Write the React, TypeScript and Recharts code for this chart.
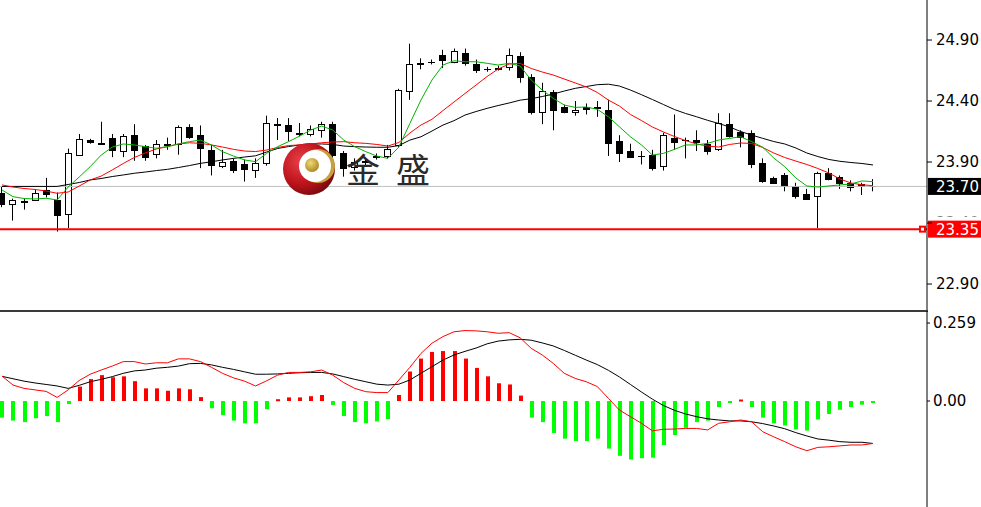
import React from 'react';
import { ComposedChart, Bar, Line, XAxis, YAxis, ReferenceLine } from 'recharts';

// candles (price units)
const opens = [
  23.65, 23.56, 23.57, 23.59, 23.67, 23.59, 23.47, 23.96, 24.08, 24.06,
  24.10, 23.99, 24.12, 24.03, 23.97, 24.04, 24.05, 24.19, 24.12, 24.00,
  23.87, 23.91, 23.88, 23.83, 23.89, 24.21, 24.20, 24.14, 24.13, 24.16,
  24.21, 23.97, 23.86, 23.90, 23.94, 23.95, 24.04, 24.48, 24.70, 24.72,
  24.78, 24.72, 24.79, 24.70, 24.66, 24.66, 24.68, 24.77, 24.60, 24.31,
  24.47, 24.35, 24.31, 24.35, 24.35, 24.33, 24.07, 23.99, 23.95, 23.96,
  23.87, 24.10, 24.08, 24.08, 24.05, 24.01, 24.21, 24.15, 24.14, 23.89,
  23.77, 23.79, 23.70, 23.64, 23.62, 23.81, 23.78, 23.73, 23.72, 23.70,
];
const highs = [
  23.70, 23.60, 23.60, 23.67, 23.77, 23.65, 24.01, 24.13, 24.09, 24.23,
  24.13, 24.13, 24.21, 24.04, 24.08, 24.10, 24.20, 24.21, 24.20, 24.04,
  24.00, 23.93, 23.92, 23.93, 24.28, 24.26, 24.26, 24.22, 24.20, 24.23,
  24.23, 23.99, 23.93, 23.93, 23.97, 24.04, 24.50, 24.87, 24.75, 24.74,
  24.82, 24.83, 24.83, 24.74, 24.68, 24.69, 24.83, 24.80, 24.62, 24.55,
  24.49, 24.37, 24.40, 24.38, 24.40, 24.41, 24.12, 24.05, 23.99, 24.00,
  24.14, 24.29, 24.10, 24.16, 24.08, 24.30, 24.30, 24.16, 24.16, 23.93,
  23.78, 23.81, 23.73, 23.68, 23.82, 23.85, 23.79, 23.75, 23.73, 23.76,
];
const lows = [
  23.53, 23.42, 23.51, 23.58, 23.61, 23.33, 23.36, 23.95, 24.05, 24.04,
  23.94, 23.94, 23.91, 23.91, 23.93, 24.00, 23.96, 24.09, 23.85, 23.79,
  23.85, 23.81, 23.74, 23.77, 23.87, 24.08, 24.07, 24.11, 24.11, 24.10,
  23.93, 23.78, 23.83, 23.87, 23.92, 23.93, 24.02, 24.41, 24.66, 24.70,
  24.67, 24.71, 24.69, 24.63, 24.64, 24.65, 24.65, 24.55, 24.29, 24.21,
  24.16, 24.30, 24.28, 24.29, 24.27, 23.95, 23.90, 23.94, 23.88, 23.83,
  23.83, 24.00, 23.93, 23.99, 23.96, 23.99, 24.10, 24.02, 23.85, 23.73,
  23.72, 23.66, 23.60, 23.59, 23.36, 23.75, 23.68, 23.66, 23.63, 23.66,
];
const closes = [
  23.56, 23.59, 23.58, 23.65, 23.64, 23.47, 23.97, 24.09, 24.06, 24.05,
  24.00, 24.11, 24.00, 23.94, 24.05, 24.05, 24.19, 24.11, 24.01, 23.88,
  23.90, 23.84, 23.84, 23.89, 24.22, 24.20, 24.15, 24.13, 24.17, 24.21,
  23.96, 23.85, 23.90, 23.91, 23.95, 24.01, 24.49, 24.70, 24.71, 24.72,
  24.74, 24.81, 24.71, 24.65, 24.66, 24.67, 24.78, 24.60, 24.31, 24.48,
  24.32, 24.31, 24.33, 24.33, 24.34, 24.06, 23.97, 23.94, 23.95, 23.85,
  24.12, 24.07, 24.08, 24.06, 23.99, 24.22, 24.11, 24.11, 23.89, 23.74,
  23.73, 23.70, 23.62, 23.60, 23.81, 23.76, 23.73, 23.70, 23.70, 23.70,
];

// moving averages (green fast, red middle, black slow)
const maFast = [
  23.671, 23.616, 23.601, 23.597, 23.603, 23.589, 23.695, 23.777, 23.862, 23.957,
  24.023, 24.048, 24.040, 24.026, 24.013, 24.026, 24.048, 24.067, 24.080, 24.040,
  23.985, 23.949, 23.917, 23.903, 23.971, 24.026, 24.067, 24.113, 24.162, 24.195,
  24.162, 24.080, 24.026, 23.985, 23.949, 23.930, 24.023, 24.217, 24.408, 24.572,
  24.695, 24.730, 24.722, 24.722, 24.709, 24.695, 24.709, 24.687, 24.572, 24.490,
  24.422, 24.367, 24.348, 24.351, 24.332, 24.271, 24.189, 24.107, 24.040, 23.957,
  23.971, 24.004, 24.040, 24.040, 24.053, 24.080, 24.094, 24.107, 24.067, 24.021,
  23.933, 23.862, 23.769, 23.704, 23.695, 23.704, 23.712, 23.720, 23.745, 23.739,
];
const maMid = [
  23.712, 23.695, 23.683, 23.675, 23.662, 23.644, 23.654, 23.703, 23.753, 23.785,
  23.835, 23.888, 23.937, 23.974, 24.007, 24.026, 24.048, 24.058, 24.053, 24.040,
  24.023, 24.004, 23.990, 23.986, 23.998, 24.019, 24.035, 24.040, 24.048, 24.058,
  24.064, 24.067, 24.058, 24.053, 24.044, 24.031, 24.060, 24.138, 24.203, 24.250,
  24.322, 24.392, 24.462, 24.531, 24.601, 24.662, 24.703, 24.708, 24.667, 24.638,
  24.613, 24.580, 24.548, 24.515, 24.470, 24.408, 24.359, 24.290, 24.240, 24.187,
  24.146, 24.109, 24.076, 24.048, 24.031, 24.023, 24.044, 24.056, 24.052, 24.019,
  23.974, 23.937, 23.908, 23.880, 23.847, 23.810, 23.761, 23.728, 23.714, 23.706,
];
const maSlow = [
  23.700, 23.700, 23.700, 23.700, 23.700, 23.700, 23.716, 23.732, 23.753, 23.765,
  23.781, 23.794, 23.808, 23.818, 23.830, 23.840, 23.855, 23.871, 23.889, 23.902,
  23.917, 23.930, 23.941, 23.951, 23.982, 24.011, 24.027, 24.040, 24.048, 24.048,
  24.044, 24.031, 24.026, 24.023, 24.021, 24.021, 24.035, 24.080, 24.107, 24.154,
  24.203, 24.239, 24.285, 24.314, 24.340, 24.363, 24.384, 24.407, 24.419, 24.437,
  24.457, 24.482, 24.504, 24.519, 24.534, 24.538, 24.523, 24.490, 24.452, 24.412,
  24.371, 24.330, 24.298, 24.271, 24.242, 24.216, 24.187, 24.150, 24.121, 24.094,
  24.068, 24.048, 24.015, 23.974, 23.945, 23.921, 23.906, 23.896, 23.888, 23.876,
];

// MACD panel
const macdHist = [
  -0.055, -0.065, -0.07, -0.057, -0.05, -0.07, -0.01, 0.048, 0.073, 0.086,
  0.079, 0.082, 0.066, 0.042, 0.042, 0.034, 0.042, 0.039, 0.013, -0.024,
  -0.047, -0.065, -0.074, -0.074, -0.027, 0.006, 0.012, 0.012, 0.016, 0.02,
  -0.013, -0.05, -0.07, -0.074, -0.068, -0.06, 0.02, 0.098, 0.141, 0.163,
  0.166, 0.166, 0.141, 0.11, 0.082, 0.059, 0.055, 0.018, -0.055, -0.07,
  -0.106, -0.125, -0.133, -0.133, -0.125, -0.158, -0.182, -0.194, -0.19, -0.188,
  -0.146, -0.113, -0.089, -0.07, -0.065, -0.02, -0.005, 0.005, -0.02, -0.055,
  -0.074, -0.081, -0.094, -0.098, -0.061, -0.043, -0.029, -0.02, -0.012, -0.005,
];
const macdDif = [
  0.083, 0.053, 0.042, 0.037, 0.032, 0.012, 0.037, 0.068, 0.089, 0.103,
  0.116, 0.131, 0.131, 0.123, 0.127, 0.127, 0.14, 0.14, 0.131, 0.112,
  0.092, 0.077, 0.066, 0.05, 0.067, 0.086, 0.095, 0.095, 0.097, 0.103,
  0.086, 0.061, 0.042, 0.031, 0.028, 0.028, 0.07, 0.112, 0.158, 0.192,
  0.214, 0.23, 0.234, 0.233, 0.23, 0.225, 0.227, 0.21, 0.175, 0.153,
  0.125, 0.092, 0.075, 0.064, 0.048, 0.009, -0.03, -0.052, -0.074, -0.099,
  -0.094, -0.093, -0.091, -0.091, -0.096, -0.074, -0.069, -0.063, -0.069, -0.102,
  -0.119, -0.135, -0.152, -0.165, -0.154, -0.152, -0.149, -0.146, -0.146, -0.141,
];
const macdDea = [
  0.082, 0.074, 0.066, 0.06, 0.055, 0.05, 0.042, 0.052, 0.064, 0.072,
  0.081, 0.092, 0.1, 0.103, 0.109, 0.112, 0.116, 0.124, 0.125, 0.12,
  0.112, 0.105, 0.097, 0.089, 0.089, 0.09, 0.092, 0.094, 0.095, 0.095,
  0.09, 0.081, 0.072, 0.064, 0.056, 0.053, 0.056, 0.07, 0.092, 0.114,
  0.136, 0.153, 0.165, 0.176, 0.19, 0.199, 0.203, 0.205, 0.202, 0.193,
  0.183, 0.168, 0.152, 0.136, 0.121, 0.102, 0.08, 0.055, 0.03, 0.006,
  -0.015, -0.031, -0.043, -0.052, -0.059, -0.063, -0.066, -0.066, -0.069, -0.075,
  -0.083, -0.092, -0.105, -0.116, -0.126, -0.13, -0.135, -0.137, -0.137, -0.141,
];

const priceTicks = [24.9, 24.4, 23.9, 23.4, 22.9];
const macdTicks = [0.259, 0];
const lastPrice = 23.7;
const alertPrice = 23.35;

const priceRows = opens.map((o, i) => ({
  i,
  open: o,
  high: highs[i],
  low: lows[i],
  close: closes[i],
  range: [lows[i], highs[i]],
  maFast: maFast[i],
  maMid: maMid[i],
  maSlow: maSlow[i],
}));
const macdRows = macdHist.map((h, i) => ({ i, hist: h, dif: macdDif[i], dea: macdDea[i] }));

const FONT = 'DejaVu Sans';
const tickStyle = { fill: '#000', fontSize: 15, fontFamily: FONT };

// price tick; the one sitting under the alert tag only shows its top edge, like the terminal does
const PriceTick = (props: any) => {
  const { x, y, payload } = props;
  const label = Number(payload.value).toFixed(2);
  const covered = Math.abs(payload.value - alertPrice) < 0.1;
  return (
    <g>
      {covered && (
        <defs>
          <clipPath id="tick-cover">
            <rect x={x - 2} y={y - 12} width={60} height={5.5} />
          </clipPath>
        </defs>
      )}
      <text
        x={x}
        y={y}
        dy="0.36em"
        textAnchor="start"
        fill="#000"
        fontSize={15}
        fontFamily={FONT}
        clipPath={covered ? 'url(#tick-cover)' : undefined}
      >
        {label}
      </text>
    </g>
  );
};

const Candle = (props: any) => {
  const { x, y, width, height, payload } = props;
  if (x == null || !payload) return null;
  const { open, close, high, low } = payload;
  const k = height / (high - low);
  const py = (v: number) => y + (high - v) * k;
  const cx = Math.floor(x + width / 2) + 0.5;
  const top = py(Math.max(open, close));
  const bot = py(Math.min(open, close));
  return (
    <g>
      <line x1={cx} x2={cx} y1={py(high)} y2={py(low)} stroke="#000" strokeWidth={1} />
      {bot - top < 1.2 ? (
        <line x1={cx - 3.5} x2={cx + 3.5} y1={Math.round(top) + 0.5} y2={Math.round(top) + 0.5} stroke="#000" />
      ) : (
        <rect
          x={cx - 3}
          y={Math.round(top) + 0.5}
          width={6}
          height={Math.max(1, Math.round(bot - top))}
          fill={close > open ? '#fff' : '#000'}
          stroke="#000"
        />
      )}
    </g>
  );
};

const HistBar = (props: any) => {
  const { x, y, width, height, payload } = props;
  if (x == null || !payload) return null;
  const top = Math.min(y, y + height);
  const h = Math.max(Math.abs(height), 2);
  const cx = x + width / 2;
  return <rect x={Math.round(cx - 2)} y={top} width={4} height={h} fill={payload.hist >= 0 ? '#ff0000' : '#00ff00'} />;
};

const PriceTag = ({ viewBox, text, bg, marker }: any) => {
  if (!viewBox) return null;
  const { x, y, width } = viewBox;
  const right = x + width;
  return (
    <g>
      {marker && (
        <g>
          <rect x={right - 8} y={y - 3.5} width={7} height={7} fill={bg} />
          <rect x={right - 6} y={y - 1.5} width={3} height={3} fill="#fff" />
        </g>
      )}
      <rect x={right + 1} y={y - 8.5} width={54} height={17} fill={bg} />
      <text x={right + 9} y={y} dy="0.36em" fill="#fff" fontSize={15} fontFamily={FONT}>
        {text}
      </text>
    </g>
  );
};

const Watermark = () => (
  <svg width={981} height={311} style={{ position: 'absolute', left: 0, top: 0, pointerEvents: 'none' }}>
    <defs>
      <radialGradient id="ball" cx="35%" cy="35%" r="70%">
        <stop offset="0%" stopColor="#e8404a" />
        <stop offset="60%" stopColor="#c0141c" />
        <stop offset="100%" stopColor="#7a0a0e" />
      </radialGradient>
      <radialGradient id="gold" cx="40%" cy="35%" r="70%">
        <stop offset="0%" stopColor="#f0d878" />
        <stop offset="100%" stopColor="#a8841c" />
      </radialGradient>
    </defs>
    <circle cx={309} cy={169} r={26} fill="url(#ball)" />
    <circle cx={318} cy={166} r={17} fill="#c8a040" />
    <circle cx={315} cy={166} r={16} fill="#fff" />
    <circle cx={312} cy={165} r={7} fill="url(#gold)" />
    <text x={346} y={183} fontSize={34} fontFamily="Noto Sans CJK SC" fill="#2a2a2a">金</text>
    <text x={396} y={183} fontSize={34} fontFamily="Noto Sans CJK SC" fill="#2a2a2a">盛</text>
  </svg>
);

const X_DOMAIN: [number, number] = [-0.18, 83.9];

export default function App() {
  return (
    <div style={{ position: 'absolute', left: 0, top: 0, width: 981, height: 507, background: '#fff', overflow: 'hidden' }}>
      <div style={{ position: 'absolute', left: 0, top: 0 }}>
        <ComposedChart width={981} height={311} data={priceRows} margin={{ top: 0, right: 0, bottom: 0, left: 0 }}>
          <XAxis type="number" dataKey="i" domain={X_DOMAIN} hide allowDataOverflow />
          <YAxis
            orientation="right"
            width={54}
            domain={[22.679, 25.228]}
            ticks={priceTicks}
            allowDataOverflow
            interval={0}
            tick={<PriceTick />}
            tickSize={5}
            tickMargin={4}
            tickLine={{ stroke: '#000' }}
            axisLine={{ stroke: '#000' }}
          />
          <ReferenceLine
            y={lastPrice}
            stroke="#c0c0c0"
            label={(p: any) => <PriceTag viewBox={p.viewBox} text={lastPrice.toFixed(2)} bg="#000" />}
          />
          <Bar dataKey="range" barSize={7} shape={(p: any) => <Candle {...p} />} isAnimationActive={false} />
          <Line type="linear" dataKey="maSlow" stroke="#000" strokeWidth={1} dot={false} activeDot={false} isAnimationActive={false} />
          <Line type="linear" dataKey="maMid" stroke="#ff0000" strokeWidth={1} dot={false} activeDot={false} isAnimationActive={false} />
          <Line type="linear" dataKey="maFast" stroke="#00b400" strokeWidth={1} dot={false} activeDot={false} isAnimationActive={false} />
          <ReferenceLine
            y={alertPrice}
            stroke="#ff0000"
            strokeWidth={2}
            label={(p: any) => <PriceTag viewBox={p.viewBox} text={alertPrice.toFixed(2)} bg="#ff0000" marker />}
          />
        </ComposedChart>
      </div>
      <Watermark />
      <div style={{ position: 'absolute', left: 0, top: 310, width: 928, height: 2, background: '#3a3a3a' }} />
      <div style={{ position: 'absolute', left: 0, top: 311 }}>
        <ComposedChart width={981} height={196} data={macdRows} margin={{ top: 0, right: 0, bottom: 0, left: 0 }}>
          <XAxis type="number" dataKey="i" domain={X_DOMAIN} hide allowDataOverflow />
          <YAxis
            orientation="right"
            width={54}
            domain={[-0.352, 0.299]}
            ticks={macdTicks}
            allowDataOverflow
            interval={0}
            tickFormatter={(v: number) => (v === 0 ? '0.00' : v.toFixed(3))}
            tick={tickStyle}
            tickSize={3}
            tickMargin={3}
            tickLine={{ stroke: '#000' }}
            axisLine={{ stroke: '#000' }}
          />
          <Bar dataKey="hist" barSize={4} shape={(p: any) => <HistBar {...p} />} isAnimationActive={false} />
          <Line type="linear" dataKey="dea" stroke="#000" strokeWidth={1} dot={false} activeDot={false} isAnimationActive={false} />
          <Line type="linear" dataKey="dif" stroke="#ff0000" strokeWidth={1} dot={false} activeDot={false} isAnimationActive={false} />
        </ComposedChart>
      </div>
    </div>
  );
}
